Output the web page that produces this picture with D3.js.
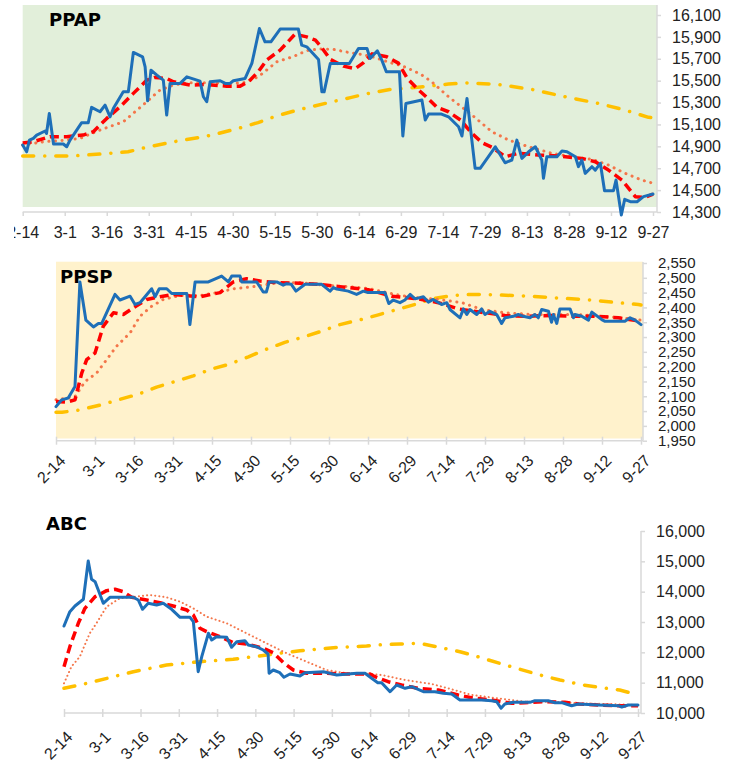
<!DOCTYPE html>
<html>
<head>
<meta charset="utf-8">
<script src="https://cdn.jsdelivr.net/npm/d3@7"></script>
<style>
  body { margin: 0; background: #fff; }
  text { font-family: "Liberation Sans", Arial, sans-serif; }
</style>
</head>
<body>
<script>
// x tick labels (every 15 days)
const tickLabels = ["2-14","3-1","3-16","3-31","4-15","4-30","5-15","5-30","6-14","6-29","7-14","7-29","8-13","8-28","9-12","9-27"];

// series points are [days after 2-14, value]
const ppapTicks = [14300,14500,14700,14900,15100,15300,15500,15700,15900,16100];
const ppapBlue = [[0,14912],[1.4,14850],[2.4,14957],[3.8,14973],[5,15003],[8,15040],[8.5,15018],[9.5,15200],[11,14921],[14.5,14921],[15.7,14896],[16.9,14957],[21,15115],[23.4,15115],[24.6,15256],[27.6,15216],[29.4,15277],[31.2,15170],[32.4,15247],[35.9,15398],[37.7,15398],[39.5,15758],[42.8,15718],[43.7,15627],[44.6,15316],[45.8,15596],[47.9,15551],[50.2,15505],[51.4,15186],[52.6,15475],[56.2,15475],[58.6,15535],[63.3,15496],[64.5,15353],[65.7,15307],[66.9,15490],[70.5,15499],[72.3,15475],[74,15475],[75.2,15499],[79.4,15520],[81.8,15657],[84.5,15977],[86.5,15855],[88.6,15855],[91.9,15971],[98.4,15971],[99.6,15825],[101.4,15809],[105.6,15694],[106.8,15398],[107.6,15398],[109.8,15657],[116.6,15657],[119.9,15795],[122.9,15795],[124,15703],[126.6,15773],[128.2,15688],[129.8,15581],[134.5,15581],[135.7,14994],[136.8,15292],[142.5,15323],[143.7,15140],[144.9,15195],[149.5,15195],[152,15170],[155.6,15079],[156.8,14994],[158.6,15338],[161.5,14699],[163.3,14699],[168.7,14896],[172.2,14750],[174.6,14775],[176.4,14957],[178.2,14790],[180.6,14850],[183,14896],[185.3,14775],[185.9,14608],[187.1,14805],[190.7,14805],[192.5,14857],[194.3,14850],[197.3,14805],[198.4,14714],[199.6,14775],[200.8,14653],[203.2,14714],[204.4,14683],[206.2,14745],[207.7,14494],[210.9,14494],[211.8,14592],[213.7,14273],[214.9,14416],[216.9,14394],[219.3,14394],[221.6,14440],[225,14464]];
const ppapRed = [[0,14930],[3.8,14942],[9.7,14988],[15.7,14988],[21.6,15003],[25.2,15033],[30,15155],[34.8,15262],[39.5,15384],[44.3,15505],[47.2,15530],[51.4,15520],[53.8,15490],[59.8,15460],[65.7,15465],[72.8,15450],[77.6,15450],[80.6,15490],[84.1,15581],[87.1,15688],[91.9,15779],[97.2,15925],[101.4,15900],[104.5,15870],[106.5,15810],[109.8,15694],[114.5,15633],[118.7,15610],[121.7,15665],[124.7,15745],[130,15718],[134.1,15660],[137.3,15520],[140.7,15429],[144.3,15347],[147.9,15256],[152,15216],[156.3,15140],[160.4,15018],[164,14933],[167.5,14891],[172.3,14805],[177,14836],[184.1,14820],[191.3,14811],[199.6,14790],[204.4,14759],[209.1,14683],[213.9,14592],[218.7,14440],[222.2,14433],[225,14464]];
const ppapOrange = [[0,14912],[7.4,14942],[15.7,14957],[20.5,14973],[27.6,15049],[35.9,15124],[44.3,15307],[49,15414],[53.8,15460],[58.6,15480],[65.7,15480],[74,15475],[78.8,15480],[84.1,15535],[90.7,15672],[96.6,15720],[101.4,15775],[106,15790],[111,15785],[116,15760],[121,15740],[126,15710],[131,15665],[135,15640],[139,15596],[142,15560],[146,15490],[152,15353],[160.4,15186],[167.5,15033],[173.5,14957],[180.6,14896],[188.9,14836],[196.1,14805],[203.2,14781],[209.1,14729],[215.1,14653],[221,14592],[225,14562]];
const ppapYellow = [[0,14811],[17,14811],[28,14830],[37.6,14850],[45,14896],[50,14921],[57,14957],[63.6,14982],[70,15018],[77,15064],[84,15117],[90.5,15177],[98,15231],[104,15268],[111,15310],[117,15345],[122.2,15377],[131,15420],[141,15440],[152,15469],[159,15480],[169.8,15465],[181.7,15420],[193.6,15353],[205.5,15292],[215.1,15231],[223.4,15165],[225,15160]];

const ppspTicks = [1950,2000,2050,2100,2150,2200,2250,2300,2350,2400,2450,2500,2550];
const ppspBlue = [[0,2065],[2.2,2088],[4.7,2094],[7.3,2133],[9.2,2486],[11.5,2357],[14.4,2334],[16.3,2346],[17.6,2346],[22.7,2444],[24.6,2425],[28.5,2438],[30.4,2410],[32.3,2416],[36.8,2463],[38.1,2436],[39.7,2463],[42.6,2463],[44.5,2447],[50.3,2447],[51.5,2342],[53.5,2486],[58.6,2486],[63.7,2506],[66.3,2486],[67.6,2506],[70.8,2506],[71.4,2486],[77.2,2486],[79.7,2452],[80.9,2452],[82,2486],[84.9,2486],[87.4,2475],[88.7,2480],[90.5,2478],[92.3,2455],[95.8,2478],[102.2,2478],[105.4,2455],[106.7,2467],[108,2462],[112.4,2455],[115.6,2444],[118.2,2455],[120,2450],[126.5,2450],[128,2413],[129.7,2425],[132.3,2416],[134.2,2425],[136.2,2444],[138.1,2429],[141.3,2436],[143.2,2418],[145.1,2427],[148.3,2410],[150.3,2416],[151.5,2393],[155.4,2365],[156.7,2395],[158,2376],[159.2,2393],[161.8,2376],[163.7,2395],[165,2376],[166.9,2387],[169.5,2376],[171.4,2346],[172.7,2365],[175.9,2370],[177.8,2376],[179.7,2370],[182.3,2365],[184.2,2376],[185.5,2365],[186.8,2393],[189.4,2387],[190.6,2350],[191.3,2376],[192.6,2346],[193.8,2395],[197.7,2395],[199,2365],[199.6,2376],[202.2,2370],[204.8,2357],[206.1,2384],[209.9,2359],[211.2,2353],[218.8,2353],[220.8,2365],[222.7,2357],[225,2342]];
const ppspRed = [[0,2082],[4,2080],[7.3,2088],[9.9,2178],[11.8,2224],[15,2246],[18.2,2337],[22.1,2382],[25.9,2376],[29.8,2399],[34.9,2427],[40,2436],[45.2,2444],[50.3,2440],[55.4,2436],[63.1,2450],[68.2,2486],[73.3,2497],[78.5,2489],[84.9,2484],[93.6,2482],[101.3,2478],[109.2,2470],[120,2460],[129.1,2438],[139.4,2429],[147.1,2416],[154.8,2395],[165,2382],[172.7,2373],[180.4,2370],[190.6,2373],[198.3,2370],[208.6,2370],[216.3,2365],[225,2353]];
const ppspOrange = [[0,2088],[7.3,2099],[11.2,2150],[15.6,2178],[19.5,2224],[23.3,2269],[28.5,2314],[32.3,2370],[36.8,2404],[41.3,2427],[47.7,2440],[55.4,2440],[63.1,2452],[68.2,2463],[75.9,2470],[83.6,2481],[93.8,2484],[104.1,2474],[113.1,2470],[120.8,2463],[130.4,2444],[138.1,2433],[147.1,2427],[156.1,2416],[163.8,2393],[172.7,2382],[183,2376],[193.2,2376],[200.9,2376],[208.6,2370],[217.6,2365],[225,2357]];
const ppspYellow = [[0,2046],[2.3,2046],[9.2,2054],[16.9,2070],[24,2088],[32,2108],[38.7,2131],[45.8,2150],[52.8,2169],[59.9,2192],[66.9,2209],[74,2233],[80.4,2257],[88,2282],[95.1,2300],[102.6,2321],[109.2,2342],[117.3,2359],[124,2375],[130.4,2391],[138,2410],[144.5,2429],[152.2,2440],[159.9,2444],[170.1,2442],[182.9,2438],[190.6,2433],[198.3,2429],[206,2425],[213.7,2418],[224,2410],[225,2408]];

const abcTicks = [10000,11000,12000,13000,14000,15000,16000];
const abcBlue = [[0,12868],[2.3,13340],[4.3,13528],[7.6,13749],[9.5,15011],[10.8,14408],[12.2,14330],[15.4,13616],[18,13814],[27.2,13814],[29.1,13726],[30.8,13419],[33,13616],[36.3,13561],[38.9,13616],[42.2,13419],[45.5,13155],[49.4,13155],[50.7,13010],[52.6,11362],[54,11856],[56.6,12628],[57.9,12407],[59.8,12516],[63.8,12496],[65.7,12166],[67.7,12351],[70.9,12384],[72.2,12242],[75.4,12186],[78.1,12077],[80,11945],[80.4,11309],[82,11418],[84.6,11329],[86.2,11177],[88.6,11286],[92.5,11220],[94.5,11329],[101.7,11362],[106.9,11253],[114.8,11309],[118,11309],[120.6,11144],[123,10999],[124.5,11000],[127.8,10702],[130.4,10923],[133.7,10814],[136.3,10867],[140.9,10702],[145.4,10702],[148.7,10649],[152,10626],[155.2,10429],[163.7,10429],[167.6,10406],[169.6,10373],[171.3,10155],[172.8,10297],[176.1,10352],[182.6,10352],[184.6,10406],[189.8,10406],[192.5,10340],[195.1,10340],[197.1,10287],[199,10241],[201.6,10297],[209.5,10264],[217.3,10241],[218.6,10198],[221.2,10264],[225,10264]];
const abcRed = [[0,11527],[2.3,12186],[5.6,12957],[8.2,13452],[12.2,13836],[16.7,14033],[20,14078],[23.2,13999],[26.5,13814],[32.4,13726],[37.6,13637],[42.8,13528],[48.1,13396],[50.7,13231],[53.3,12793],[55.9,12681],[61.1,12516],[66.3,12318],[71.6,12275],[78.1,12133],[82,11988],[86,11659],[89.9,11418],[95.1,11309],[102.9,11309],[110.7,11286],[120,11286],[121.9,11197],[127.1,11032],[132.3,10923],[138.8,10814],[146.7,10758],[154.5,10594],[161,10484],[167.6,10429],[171.5,10373],[175.4,10319],[180.6,10340],[188.5,10373],[196.3,10352],[201.6,10297],[209.5,10264],[217.3,10241],[225,10241]];
const abcOrange = [[0,10979],[2.9,11527],[6.2,11856],[10.1,12627],[12.7,12957],[16.7,13505],[21.9,13781],[28.4,13836],[33.7,13891],[40.2,13814],[45.5,13670],[50.7,13451],[55.9,13176],[63.8,12957],[70.3,12681],[79.4,12297],[87.3,11968],[95.1,11692],[102.9,11418],[110.7,11309],[118,11309],[124.5,11253],[133.7,11088],[144.1,10956],[150.6,10814],[159.8,10594],[170.2,10484],[180.6,10373],[191.1,10373],[201.6,10319],[212.1,10297],[225,10264]];
const abcYellow = [[0,10814],[10.1,10999],[27.2,11362],[40.2,11582],[53.3,11692],[66.3,11770],[79.4,11912],[92.5,12054],[105.6,12153],[118.6,12209],[122.5,12242],[131.7,12275],[139.5,12297],[146,12186],[155.2,12021],[163,11836],[170.8,11637],[177.4,11473],[186.5,11253],[194.4,11088],[203.5,10923],[212.6,10814],[217.8,10758],[221.8,10670]];

const parse = d3.utcParse("%m-%d");
const start = parse(tickLabels[0]);
const toDate = d => new Date(start.getTime() + d * 864e5);
const axisGray = "#d9d9d9";

const svg = d3.select("body").append("svg")
  .attr("width", 735)
  .attr("height", 765);

const styles = {
  yellow: { color: "#ffc000", width: 3.5, dash: "11,11,0.1,11", cap: "round" },
  orange: { color: "#f4764a", width: 3, dash: "0.1,6.5", cap: "round" },
  red:    { color: "#ff0000", width: 3.5, dash: "9,5", cap: "butt" },
  blue:   { color: "#1e6fb8", width: 3, dash: null, cap: "round" }
};

function drawPanel(p) {
  const g = svg.append("g");

  const x = d3.scaleUtc()
    .domain([start, toDate(225)])
    .range([p.x0, p.x1]);
  const y = d3.scaleLinear()
    .domain([p.ticks[0], p.ticks[p.ticks.length - 1]])
    .range([p.yBottom, p.yTop]);

  // background
  if (p.bg) {
    g.append("rect")
      .attr("x", p.x0).attr("y", p.bgTop)
      .attr("width", p.axisX - p.x0).attr("height", p.bgBottom - p.bgTop)
      .attr("fill", p.bg);
  }

  // x axis line + ticks
  g.append("line")
    .attr("x1", p.x0).attr("x2", p.axisX)
    .attr("y1", p.yBottom).attr("y2", p.yBottom)
    .attr("stroke", axisGray).attr("stroke-width", 1.5);

  const xAxis = d3.axisBottom(x)
    .tickValues(tickLabels.map(parse))
    .tickFormat(d3.utcFormat("%-m-%-d"))
    .tickSize(4)
    .tickSizeOuter(0)
    .tickPadding(p.rotate ? 6 : 10.6);

  const gx = g.append("g")
    .attr("transform", "translate(0," + p.yBottom + ")")
    .call(xAxis);
  gx.select(".domain").remove();
  gx.selectAll(".tick line")
    .attr("y1", -4).attr("stroke", axisGray).attr("stroke-width", 1.5);
  gx.selectAll(".tick text")
    .attr("fill", "#222").attr("font-size", 16)
    .style("font-family", "'Liberation Sans', Arial, sans-serif");

  if (p.rotate) {
    gx.selectAll(".tick text")
      .attr("y", null)
      .attr("dy", "0.35em")
      .attr("text-anchor", "end")
      .attr("transform", "translate(" + p.labelDx + "," + p.labelDy + ") rotate(-45)");
  }
  if (p.clipX != null) {
    const cid = "clip" + p.title;
    svg.append("clipPath").attr("id", cid)
      .append("rect").attr("x", p.clipX).attr("y", 0).attr("width", 735).attr("height", 765);
    gx.attr("clip-path", "url(#" + cid + ")");
  }

  // right y axis
  const yAxis = d3.axisRight(y)
    .tickValues(p.ticks)
    .tickFormat(d3.format(","))
    .tickSize(4)
    .tickSizeOuter(0)
    .tickPadding(11);
  const gy = g.append("g")
    .attr("transform", "translate(" + p.axisX + ",0)")
    .call(yAxis);
  gy.select(".domain").remove();
  gy.selectAll(".tick line").attr("stroke", axisGray).attr("stroke-width", 1.5);
  gy.selectAll(".tick text")
    .attr("fill", "#222").attr("font-size", p.yFont || 16)
    .style("font-family", "'Liberation Sans', Arial, sans-serif");
  g.append("line")
    .attr("x1", p.axisX).attr("x2", p.axisX)
    .attr("y1", p.axisTop).attr("y2", p.yBottom)
    .attr("stroke", axisGray).attr("stroke-width", 1.5);

  // lines
  const line = d3.line()
    .x(d => x(toDate(d[0])))
    .y(d => y(d[1]));

  p.series.forEach(s => {
    const st = styles[s.style];
    g.append("path")
      .datum(s.data)
      .attr("d", line)
      .attr("fill", "none")
      .attr("stroke", st.color)
      .attr("stroke-width", s.width || st.width)
      .attr("stroke-dasharray", s.dash || st.dash)
      .attr("stroke-linecap", st.cap)
      .attr("stroke-linejoin", "round");
  });

  // title
  g.append("text")
    .attr("x", p.titleX).attr("y", p.titleY)
    .attr("font-size", 18)
    .attr("font-weight", "bold")
    .style("font-family", "'DejaVu Sans', Verdana, sans-serif")
    .attr("fill", "#000")
    .text(p.title);
}

drawPanel({
  title: "PPAP", titleX: 49, titleY: 26,
  x0: 22.7, x1: 653, axisX: 657, axisTop: 5,
  yTop: 15, yBottom: 212, ticks: ppapTicks,
  bg: "#e2efda", bgTop: 5, bgBottom: 207,
  rotate: false, clipX: 14,
  series: [
    { style: "yellow", data: ppapYellow },
    { style: "orange", data: ppapOrange },
    { style: "red", data: ppapRed },
    { style: "blue", data: ppapBlue }
  ]
});

drawPanel({
  title: "PPSP", titleX: 60, titleY: 283,
  x0: 56, x1: 641, axisX: 643, axisTop: 262,
  yTop: 263, yBottom: 440.7, ticks: ppspTicks, yFont: 15,
  bg: "#fff2cc", bgTop: 261.7, bgBottom: 438.5,
  rotate: true, labelDx: 6, labelDy: 17,
  series: [
    { style: "yellow", data: ppspYellow },
    { style: "orange", data: ppspOrange },
    { style: "red", data: ppspRed },
    { style: "blue", data: ppspBlue }
  ]
});

drawPanel({
  title: "ABC", titleX: 46, titleY: 530,
  x0: 64, x1: 638, axisX: 641, axisTop: 531,
  yTop: 531, yBottom: 713, ticks: abcTicks,
  bg: null,
  rotate: true, labelDx: 5, labelDy: 21,
  series: [
    { style: "yellow", data: abcYellow },
    { style: "orange", data: abcOrange, width: 2, dash: "0.1,4" },
    { style: "red", data: abcRed },
    { style: "blue", data: abcBlue }
  ]
});
</script>
</body>
</html>
